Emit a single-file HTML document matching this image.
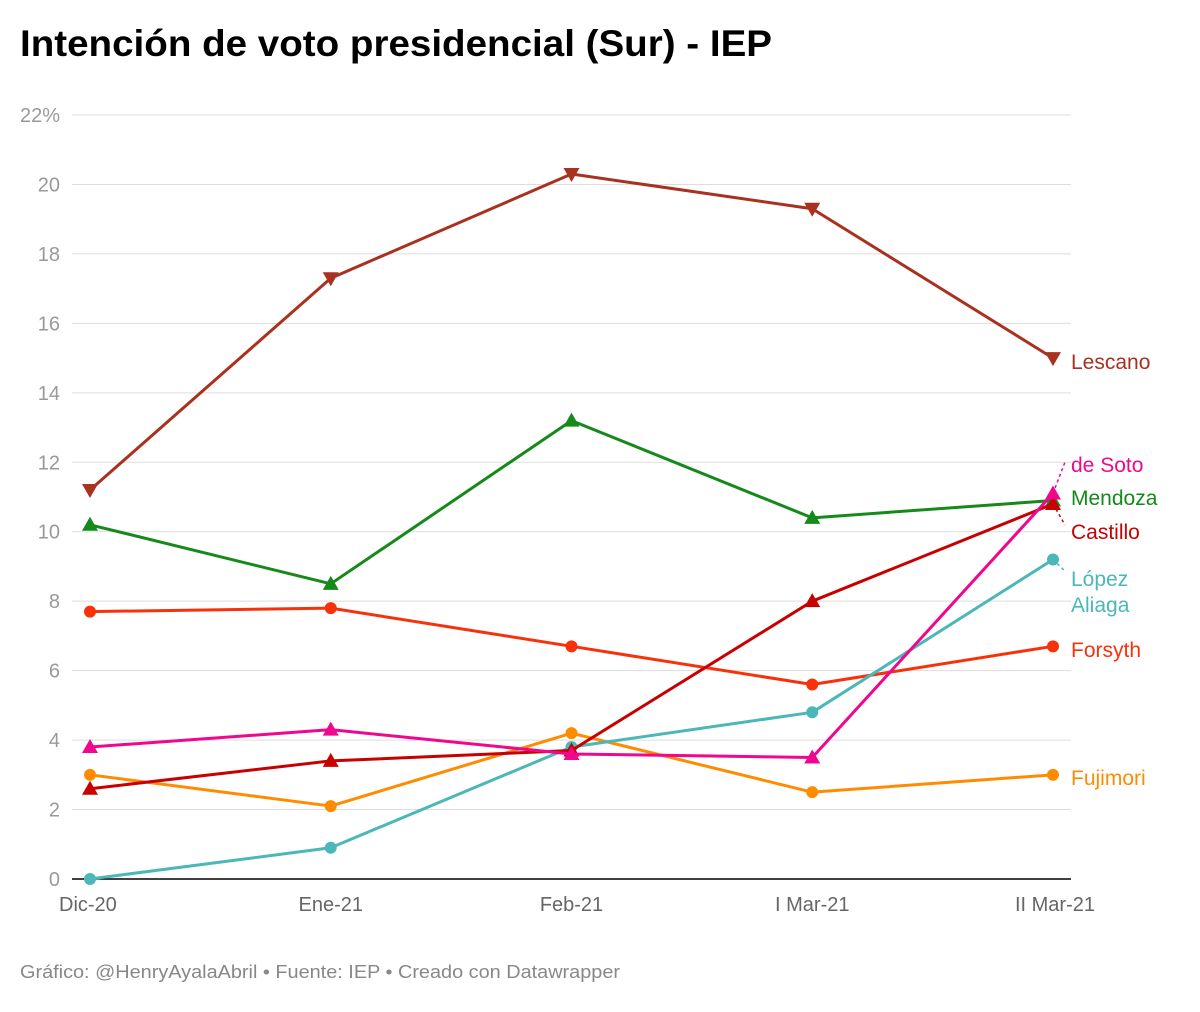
<!DOCTYPE html>
<html><head><meta charset="utf-8"><style>
html,body{margin:0;padding:0;background:#fff;}
svg{display:block;font-family:"Liberation Sans",sans-serif;}
</style></head><body>
<svg id="chart" width="1200" height="1012">
<text x="20" y="56" font-size="37" font-weight="bold" fill="#000" textLength="752" lengthAdjust="spacingAndGlyphs">Intención de voto presidencial (Sur) - IEP</text>
<g id="grid"></g><g id="series"></g><g id="labels"></g>
<text x="20" y="978" font-size="18" fill="#888" textLength="600" lengthAdjust="spacingAndGlyphs">Gráfico: @HenryAyalaAbril • Fuente: IEP • Creado con Datawrapper</text>
</svg>
<script>
const categories=["Dic-20","Ene-21","Feb-21","I Mar-21","II Mar-21"];
const yTicks=[0,2,4,6,8,10,12,14,16,18,20,22];
const lescano=[11.2,17.3,20.3,19.3,15.0];
const mendoza=[10.2,8.5,13.2,10.4,10.9];
const forsyth=[7.7,7.8,6.7,5.6,6.7];
const deSoto=[3.8,4.3,3.6,3.5,11.1];
const castillo=[2.6,3.4,3.7,8.0,10.8];
const fujimori=[3.0,2.1,4.2,2.5,3.0];
const lopezAliaga=[0,0.9,3.8,4.8,9.2];
const seriesList=[
 {name:"Lescano",v:lescano,c:"#a8311f",m:"down",lab:["Lescano"],ly:[362]},
 {name:"Mendoza",v:mendoza,c:"#15891a",m:"up",lab:["Mendoza"],ly:[498]},
 {name:"Forsyth",v:forsyth,c:"#f7320b",m:"circle",lab:["Forsyth"],ly:[650]},
 {name:"Fujimori",v:fujimori,c:"#ff8c00",m:"circle",lab:["Fujimori"],ly:[778]},
 {name:"López Aliaga",v:lopezAliaga,c:"#4cb7b9",m:"circle",lab:["López","Aliaga"],ly:[579,605]},
 {name:"Castillo",v:castillo,c:"#c90000",m:"up",lab:["Castillo"],ly:[532]},
 {name:"de Soto",v:deSoto,c:"#f0078e",m:"up",lab:["de Soto"],ly:[465]}
];
const NS="http://www.w3.org/2000/svg";
const x=i=>90+i*240.75;
const y=v=>879-v*(764/22);
const mk=(t,a,p)=>{const e=document.createElementNS(NS,t);for(const k in a)e.setAttribute(k,a[k]);p.appendChild(e);return e;};
const grid=document.getElementById('grid');
yTicks.forEach(t=>{
 const l=mk('line',{x1:72,x2:1071,y1:y(t),y2:y(t),stroke:t===0?'#000':'#ddd','stroke-width':t===0?1.5:1},grid);
 
 
 const tx=mk('text',{x:60,y:y(t)+7,'text-anchor':'end','font-size':20,fill:'#999'},grid);
 tx.textContent=t===22?'22%':String(t);
 
 
});
categories.forEach((c,i)=>{
 const anchor=i===0?'start':(i===4?'end':'middle');
 const xx=i===0?59:(i===4?1095:x(i));
 const tx=mk('text',{x:xx,y:911,'text-anchor':anchor,'font-size':20,fill:'#666'},grid);
 tx.textContent=c;
 
 
});
const sg=document.getElementById('series'),lg=document.getElementById('labels');
seriesList.forEach(s=>{
 const g=mk('g',{},sg);
 
 
 const pl=mk('polyline',{points:s.v.map((v,i)=>x(i)+','+y(v)).join(' '),fill:'none',stroke:s.c,'stroke-width':3,'stroke-linejoin':'round'},g);
 
 
 s.v.forEach((v,i)=>{
  const cx=x(i),cy=y(v);let e;
  if(s.m==='circle')e=mk('circle',{cx:cx,cy:cy,r:6,fill:s.c},g);
  else if(s.m==='up')e=mk('polygon',{points:`${cx-8},${cy+6} ${cx+8},${cy+6} ${cx},${cy-8}`,fill:s.c},g);
  else e=mk('polygon',{points:`${cx-8},${cy-6} ${cx+8},${cy-6} ${cx},${cy+8}`,fill:s.c},g);
  
  
 });
 s.lab.forEach((t,k)=>{
  const tx=mk('text',{x:1071,y:s.ly[k]+7,'font-size':21,fill:s.c},lg);
  tx.textContent=t;
  
  
 });
});
[[1053,y(deSoto[4]),1065,462,"#f0078e"],[1053,y(castillo[4]),1065,525,"#c90000"],[1053,y(lopezAliaga[4]),1066,572,"#4cb7b9"]].forEach(a=>{
 const l=mk('line',{x1:a[0],y1:a[1],x2:a[2],y2:a[3],stroke:a[4],'stroke-width':1.5,'stroke-dasharray':'3,3'},lg);
 
 
});
</script>
</body></html>
